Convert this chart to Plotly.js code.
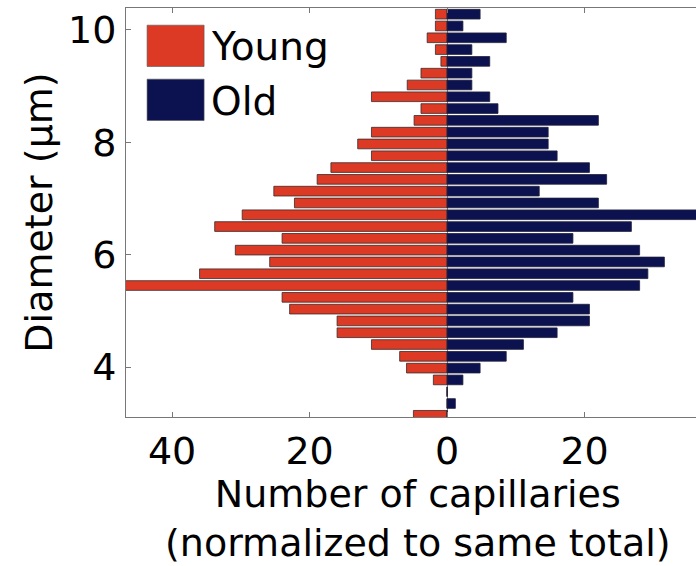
<!DOCTYPE html>
<html>
<head>
<meta charset="utf-8">
<script src="https://cdn.plot.ly/plotly-3.0.1.min.js"></script>
<style>html,body{margin:0;padding:0;background:#fff;}</style>
</head>
<body>
<div id="chart" style="width:696px;height:566px;"></div>
<script>
// Bin centres (diameter, µm), top to bottom
var diameter = [10.28, 10.07, 9.86, 9.65, 9.44, 9.23, 9.02, 8.81, 8.60, 8.39,
                8.18, 7.97, 7.76, 7.55, 7.34, 7.13, 6.92, 6.71, 6.50, 6.29,
                6.08, 5.87, 5.66, 5.45, 5.24, 5.03, 4.82, 4.61, 4.40, 4.19,
                3.98, 3.77, 3.56, 3.35, 3.14];
// Number of capillaries (normalized), Young drawn to the left
var young = [1.7, 1.7, 2.9, 1.7, 0.9, 3.8, 5.8, 11.0, 3.8, 4.8,
             11.0, 13.0, 11.0, 16.9, 18.9, 25.2, 22.2, 29.8, 33.8, 24.0,
             30.8, 25.8, 36.0, 47.0, 24.0, 22.9, 16.0, 16.0, 11.0, 6.9,
             5.9, 2.0, 0, 0, 4.9];
var old = [4.8, 2.3, 8.6, 3.6, 6.2, 3.6, 3.6, 6.2, 7.4, 22.0,
           14.7, 14.7, 16.0, 20.7, 23.2, 13.4, 22.0, 37.0, 26.8, 18.3,
           28.0, 31.6, 29.2, 28.0, 18.3, 20.7, 20.7, 16.0, 11.1, 8.6,
           4.8, 2.3, 0, 1.2, 0];
var seriesNames = ["Young", "Old"];
var xTickVals = [-40, -20, 0, 20];
var xTickText = ["40", "20", "0", "20"];
var yTickVals = [4, 6, 8, 10];
var yTickText = ["4", "6", "8", "10"];
var xTitle = "Number of capillaries<br>(normalized to same total)";
var yTitle = "Diameter (µm)";

var RED = "#DC3A25", NAVY = "#0C1250";
var FONT = "DejaVu Sans, sans-serif";

var traces = [
  {type: "bar", orientation: "h", name: seriesNames[0],
   y: diameter, x: young.map(function (v) { return -v; }),
   marker: {color: RED, line: {color: "#3a2a2a", width: 0.8}}},
  {type: "bar", orientation: "h", name: seriesNames[1],
   y: diameter, x: old,
   marker: {color: NAVY, line: {color: "#20203a", width: 0.8}}}
];

var layout = {
  width: 696, height: 566,
  margin: {l: 126, r: 0, t: 8, b: 149, pad: 0},
  paper_bgcolor: "#fff", plot_bgcolor: "#fff",
  barmode: "overlay", bargap: 0.18,
  showlegend: false,
  font: {family: FONT, color: "#000", size: 38},
  xaxis: {
    range: [-46.7, 36.2], tickvals: xTickVals, ticktext: xTickText,
    ticks: "inside", ticklen: 5, tickcolor: "#777", tickwidth: 1,
    showline: true, linecolor: "#777", linewidth: 1, mirror: "ticks",
    showgrid: false, zeroline: true, zerolinecolor: "#888", zerolinewidth: 1,
    tickfont: {size: 38, family: FONT}, ticklabelstandoff: 0
  },
  yaxis: {
    range: [3.11, 10.39], tickvals: yTickVals, ticktext: yTickText,
    ticks: "inside", ticklen: 5, tickcolor: "#777", tickwidth: 1,
    showline: true, linecolor: "#777", linewidth: 1, mirror: false,
    showgrid: false, zeroline: false,
    tickfont: {size: 38, family: FONT}, ticklabelstandoff: 1,
    title: {text: yTitle, font: {size: 38, family: FONT}, standoff: 3}
  },
  shapes: [
    {type: "rect", xref: "paper", yref: "paper", x0: 0.037, x1: 0.137, y0: 0.857, y1: 0.958,
     fillcolor: RED, line: {color: "#555", width: 0.6}},
    {type: "rect", xref: "paper", yref: "paper", x0: 0.037, x1: 0.137, y0: 0.725, y1: 0.826,
     fillcolor: NAVY, line: {color: "#555", width: 0.6}}
  ],
  annotations: [
    {xref: "paper", yref: "paper", x: 0.145, y: 0.905, xanchor: "left", yanchor: "middle",
     text: seriesNames[0], showarrow: false, font: {size: 39, family: FONT, color: "#000"}},
    {xref: "paper", yref: "paper", x: 0.145, y: 0.772, xanchor: "left", yanchor: "middle",
     text: seriesNames[1], showarrow: false, font: {size: 39, family: FONT, color: "#000"}},
    {xref: "paper", yref: "paper", x: 0.5123, y: -0.129, xanchor: "center", yanchor: "top",
     text: xTitle, showarrow: false, align: "center",
     font: {size: 38, family: FONT, color: "#000"}}
  ]
};

Plotly.newPlot("chart", traces, layout, {staticPlot: true, displayModeBar: false});
</script>
</body>
</html>
